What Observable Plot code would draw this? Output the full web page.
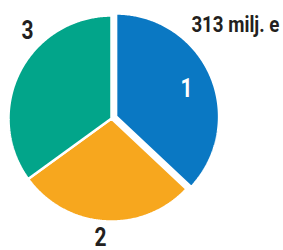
<!DOCTYPE html>
<html><head><meta charset="utf-8">
<script src="https://cdn.jsdelivr.net/npm/d3@7"></script>
<script src="https://cdn.jsdelivr.net/npm/@observablehq/plot@0.6"></script>
<style>
html,body{margin:0;padding:0;background:#fff}
#chart svg{display:block}
</style>
</head><body><div id="chart"></div>
<script>
// ---- data ----
const sliceLabels = ["1", "2", "3"];
const sliceValues = [37, 28, 35];
const sliceColors = ["#0a78c3", "#f7a71e", "#02a58a"];
const totalLabel = "313 milj. e";

// ---- layout ----
const W = 283, H = 250, CX = 111, CY = 118, R = 103;
const explode = [5 / R, 0, 0];          // offset of each slice along its bisector (radius units)
const labelXY = [[0.728, 0.285], [-0.107, -1.16], [-0.816, 0.850]];  // label centres (radius units)
const totalXY = [1.63, 0.905];          // right end of the total label
const totalWidth = 88;
const FONT = "Roboto,'Liberation Sans',sans-serif";

const slices = sliceLabels.map((l, i) => ({label: l, value: sliceValues[i], color: sliceColors[i]}));
const arcs = d3.pie().sort(null).value(d => d.value)(slices);

const polys = [];
const labels = [];
arcs.forEach((a, k) => {
  const mid = (a.startAngle + a.endAngle) / 2;
  const ox = explode[k] * Math.sin(mid), oy = explode[k] * Math.cos(mid);
  const n = Math.max(2, Math.ceil((a.endAngle - a.startAngle) / 0.01));
  polys.push({x: ox, y: oy, id: a.data.label, color: a.data.color});
  for (let j = 0; j <= n; j++) {
    const t = a.startAngle + (a.endAngle - a.startAngle) * j / n;
    polys.push({x: ox + Math.sin(t), y: oy + Math.cos(t), id: a.data.label, color: a.data.color});
  }
  labels.push({x: labelXY[k][0], y: labelXY[k][1], text: a.data.label, fill: k === 0 ? "white" : "#231f20"});
});
const totals = [{x: totalXY[0], y: totalXY[1], text: totalLabel}];

const chart = Plot.plot({
  width: W, height: H,
  margin: 0,
  x: {domain: [-CX / R, (W - CX) / R], range: [0, W], axis: null},
  y: {domain: [-(H - CY) / R, CY / R], range: [H, 0], axis: null},
  style: {fontFamily: FONT, background: "white"},
  marks: [
    Plot.line(polys, {x: "x", y: "y", z: "id", fill: "color", stroke: "white", strokeWidth: 2.5, curve: "linear-closed", strokeLinejoin: "miter"}),
    Plot.text(labels, {x: "x", y: "y", text: "text", fill: "fill", fontSize: 25.5, fontWeight: "bold", fontFamily: FONT, className: "digit"}),
    Plot.text(totals, {x: "x", y: "y", text: "text", fill: "#231f20", fontSize: 22, fontWeight: "bold", fontFamily: FONT, textAnchor: "end", className: "total"})
  ]
});
document.getElementById("chart").appendChild(chart);
// condense glyphs to mimic the narrow typeface
chart.querySelectorAll("g.digit text").forEach(t => {
  const len = t.getComputedTextLength();
  t.setAttribute("textLength", len * 0.82);
  t.setAttribute("lengthAdjust", "spacingAndGlyphs");
});
chart.querySelectorAll("g.total text").forEach(t => {
  t.setAttribute("textLength", totalWidth);
  t.setAttribute("lengthAdjust", "spacingAndGlyphs");
});
</script>
</body></html>
